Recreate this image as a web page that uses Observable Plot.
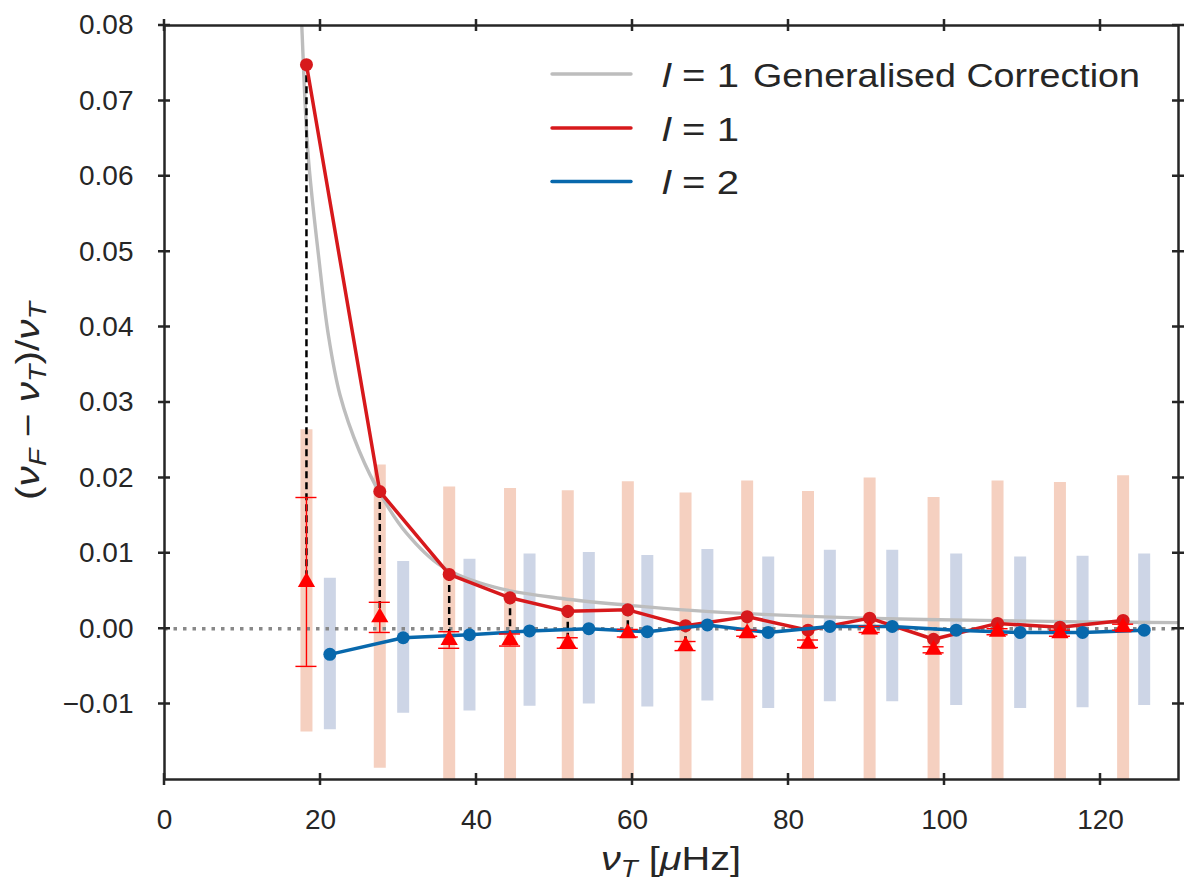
<!DOCTYPE html>
<html>
<head>
<meta charset="utf-8">
<script src="https://cdn.jsdelivr.net/npm/d3@7"></script>
<script src="https://cdn.jsdelivr.net/npm/@observablehq/plot@0.6"></script>
<style>
  body { margin: 0; background: #fff; }
  svg text { font-family: "Liberation Sans", Arial, sans-serif; }
</style>
</head>
<body>
<div id="chart"></div>
<script>
// l = 1 modes: fitted frequency offsets (circles), observed (triangles), error bars and bands
const l1X = [18.2, 27.6, 36.5, 44.3, 51.7, 59.4, 66.8, 74.7, 82.5, 90.4, 98.6, 106.8, 114.8, 122.9];
const l1Fit = [0.0748, 0.0182, 0.0072, 0.0041, 0.0023, 0.0025, 0.0004, 0.0016, -0.0002, 0.0014, -0.0014, 0.0007, 0.0002, 0.0011];
const l1Obs = [0.0062, 0.0015, -0.0015, -0.0015, -0.0019, -0.0006, -0.0023, -0.0006, -0.0020, -0.0001, -0.0028, -0.0004, -0.0006, 0.0002];
const l1Err = [0.0112, 0.0020, 0.0011, 0.0008, 0.0007, 0.0005, 0.0006, 0.0004, 0.0005, 0.0004, 0.0004, 0.0004, 0.0004, 0.0004];
const l1BandTop = [0.0264, 0.0217, 0.0188, 0.0186, 0.0183, 0.0195, 0.0180, 0.0196, 0.0182, 0.0200, 0.0174, 0.0196, 0.0194, 0.0203];
const l1BandBottom = [-0.0137, -0.0185, -0.0212, -0.0215, -0.0219, -0.0207, -0.0226, -0.0208, -0.0222, -0.0205, -0.0230, -0.0205, -0.0206, -0.0210];

// l = 2 modes
const l2X = [21.2, 30.6, 39.1, 46.8, 54.4, 61.9, 69.6, 77.4, 85.3, 93.3, 101.5, 109.7, 117.7, 125.6];
const l2Fit = [-0.0034, -0.0012, -0.0008, -0.0003, 0.0000, -0.0004, 0.0005, -0.0005, 0.0003, 0.0003, -0.0002, -0.0005, -0.0005, -0.0002];
const l2BandTop = [0.0067, 0.0089, 0.0092, 0.0099, 0.0101, 0.0097, 0.0105, 0.0095, 0.0104, 0.0104, 0.0099, 0.0095, 0.0096, 0.0099];
const l2BandBottom = [-0.0134, -0.0112, -0.0109, -0.0103, -0.0100, -0.0104, -0.0096, -0.0106, -0.0097, -0.0097, -0.0102, -0.0106, -0.0105, -0.0102];

// l = 1 generalised correction curve
const corrX = [17.4, 17.6, 18.4, 19.8, 21, 22.5, 25, 27.7, 31, 35.5, 42.3, 51, 59.6, 68, 76.7, 89.6, 105, 118, 130];
const corrY = [0.085, 0.080, 0.063, 0.049, 0.039, 0.031, 0.0235, 0.0178, 0.0127, 0.0083, 0.0055, 0.0040, 0.0031, 0.0024, 0.0019, 0.0014, 0.0011, 0.0009, 0.0008];

const xDomain = [0, 130];
const yDomain = [-0.02, 0.08];
const xTicks = [0, 20, 40, 60, 80, 100, 120];
const yTicks = [-0.01, 0, 0.01, 0.02, 0.03, 0.04, 0.05, 0.06, 0.07, 0.08];

const l1 = l1X.map((x, i) => ({x, fit: l1Fit[i], obs: l1Obs[i], lo: l1Obs[i] - l1Err[i], hi: l1Obs[i] + l1Err[i], top: l1BandTop[i], bottom: l1BandBottom[i]}));
const l2 = l2X.map((x, i) => ({x, fit: l2Fit[i], top: l2BandTop[i], bottom: l2BandBottom[i]}));
const corr = corrX.map((x, i) => ({x, y: corrY[i]}));

const ink = "#262626";
const red = "#d7191c";
const blue = "#0868ac";
const capHalf = 1.35; // half width of error bar caps, in x units
const m = {top: 25, right: 22, bottom: 117, left: 164};

const chart = Plot.plot({
  width: 1200,
  height: 896,
  marginLeft: m.left,
  marginRight: m.right,
  marginTop: m.top,
  marginBottom: m.bottom,
  style: {background: "#fff", color: ink, fontFamily: "Liberation Sans, Arial, sans-serif"},
  x: {domain: xDomain},
  y: {domain: yDomain},
  marks: [
    // bands
    Plot.ruleX(l1, {x: "x", y1: "bottom", y2: "top", stroke: "#f5d0c0", strokeWidth: 12, clip: true}),
    Plot.ruleX(l2, {x: "x", y1: "bottom", y2: "top", stroke: "#cdd5e6", strokeWidth: 12, clip: true}),
    // correction curve
    Plot.line(corr, {x: "x", y: "y", stroke: "#bdbdbd", strokeWidth: 3.4, curve: "catmull-rom", clip: true}),
    // zero line
    Plot.ruleY([0], {stroke: "#888", strokeWidth: 3.5, strokeDasharray: "3.5,6"}),
    // fit to observed connectors
    Plot.ruleX(l1, {x: "x", y1: "fit", y2: "obs", stroke: "#000", strokeWidth: 2.5, strokeDasharray: "7,4"}),
    // l = 1
    Plot.line(l1, {x: "x", y: "fit", stroke: red, strokeWidth: 3.5}),
    Plot.dot(l1, {x: "x", y: "fit", r: 6.5, fill: red}),
    // l = 2
    Plot.line(l2, {x: "x", y: "fit", stroke: blue, strokeWidth: 3.5}),
    Plot.dot(l2, {x: "x", y: "fit", r: 6.5, fill: blue}),
    // error bars + triangles
    Plot.ruleX(l1, {x: "x", y1: "lo", y2: "hi", stroke: "#ff0000", strokeWidth: 1.4}),
    Plot.ruleY(l1, {y: "lo", x1: d => d.x - capHalf, x2: d => d.x + capHalf, stroke: "#ff0000", strokeWidth: 1.4}),
    Plot.ruleY(l1, {y: "hi", x1: d => d.x - capHalf, x2: d => d.x + capHalf, stroke: "#ff0000", strokeWidth: 1.4}),
    Plot.dot(l1, {x: "x", y: "obs", symbol: "triangle", r: 6.4, fill: "#ff0000"}),
    Plot.frame({stroke: ink, strokeWidth: 2.5}),
    Plot.axisX(xTicks, {anchor: "bottom", tickSize: 0, tickPadding: 30, fontSize: 28, tickFormat: d => String(d), label: null}),
    Plot.axisY(yTicks, {anchor: "left", tickSize: 0, tickPadding: 31, fontSize: 28, tickFormat: d3.format(".2f"), label: null})
  ]
});

document.getElementById("chart").append(chart);

const svg = d3.select(chart);

// ticks crossing the frame on all four sides
let fx, fy;
try {
  const sx = chart.scale("x"), sy = chart.scale("y");
  fx = v => sx.apply(v);
  fy = v => sy.apply(v);
  if (!isFinite(fx(xTicks[1]))) throw new Error("no scale");
} catch (e) {
  fx = d3.scaleLinear().domain(xDomain).range([m.left, 1200 - m.right]);
  fy = d3.scaleLinear().domain(yDomain).range([896 - m.bottom, m.top]);
}
const tickG = svg.append("g").attr("stroke", ink).attr("stroke-width", 2.5).attr("fill", "none");
const [xa, xb] = xDomain.map(fx);
const [ya, yb] = yDomain.map(fy);
xTicks.forEach(v => {
  const px = fx(v);
  tickG.append("path").attr("d", `M${px},${ya - 6}V${ya + 6}M${px},${yb - 6}V${yb + 6}`);
});
yTicks.forEach(v => {
  const py = fy(v);
  tickG.append("path").attr("d", `M${xa - 6},${py}H${xa + 6}M${xb - 6},${py}H${xb + 6}`);
});

// legend
const legend = [
  {color: "#bdbdbd", y: 74, base: 86.5, num: "1", tail: "Generalised Correction"},
  {color: red, y: 128, base: 140.5, num: "1", tail: null},
  {color: blue, y: 181.5, base: 194, num: "2", tail: null}
];
legend.forEach(d => {
  svg.append("line").attr("x1", 552).attr("x2", 631).attr("y1", d.y).attr("y2", d.y)
    .attr("stroke", d.color).attr("stroke-width", 3.4).attr("stroke-linecap", "round");
  const t = svg.append("text").attr("x", 662).attr("y", d.base).attr("text-anchor", "start").attr("fill", ink)
    .attr("font-size", 33).attr("textLength", 77).attr("lengthAdjust", "spacingAndGlyphs");
  t.append("tspan").attr("font-style", "italic").text("l");
  t.append("tspan").text(" = " + d.num);
  if (d.tail) {
    svg.append("text").attr("x", 753).attr("y", d.base).attr("text-anchor", "start").attr("fill", ink)
      .attr("font-size", 33).attr("textLength", 387).attr("lengthAdjust", "spacingAndGlyphs")
      .text(d.tail);
  }
});

// x axis label: ν_T [μHz]
const xl = svg.append("text").attr("x", 601).attr("y", 870).attr("text-anchor", "start")
  .attr("fill", ink).attr("font-size", 33).attr("textLength", 140).attr("lengthAdjust", "spacingAndGlyphs");
xl.append("tspan").attr("font-style", "italic").text("ν");
xl.append("tspan").attr("font-style", "italic").attr("font-size", 23).attr("dy", 7).text("T");
xl.append("tspan").attr("dy", -7).text(" [");
xl.append("tspan").attr("font-style", "italic").text("μ");
xl.append("tspan").text("Hz]");

// y axis label: (ν_F − ν_T)/ν_T
const yl = svg.append("text").attr("transform", "translate(39,500) rotate(-90)").attr("text-anchor", "start")
  .attr("fill", ink).attr("font-size", 33).attr("textLength", 198).attr("lengthAdjust", "spacingAndGlyphs");
yl.append("tspan").text("(");
yl.append("tspan").attr("font-style", "italic").text("ν");
yl.append("tspan").attr("font-style", "italic").attr("font-size", 23).attr("dy", 7).text("F");
yl.append("tspan").attr("dy", -7).text(" − ");
yl.append("tspan").attr("font-style", "italic").text("ν");
yl.append("tspan").attr("font-style", "italic").attr("font-size", 23).attr("dy", 7).text("T");
yl.append("tspan").attr("dy", -7).text(")/");
yl.append("tspan").attr("font-style", "italic").text("ν");
yl.append("tspan").attr("font-style", "italic").attr("font-size", 23).attr("dy", 7).text("T");
</script>
</body>
</html>
